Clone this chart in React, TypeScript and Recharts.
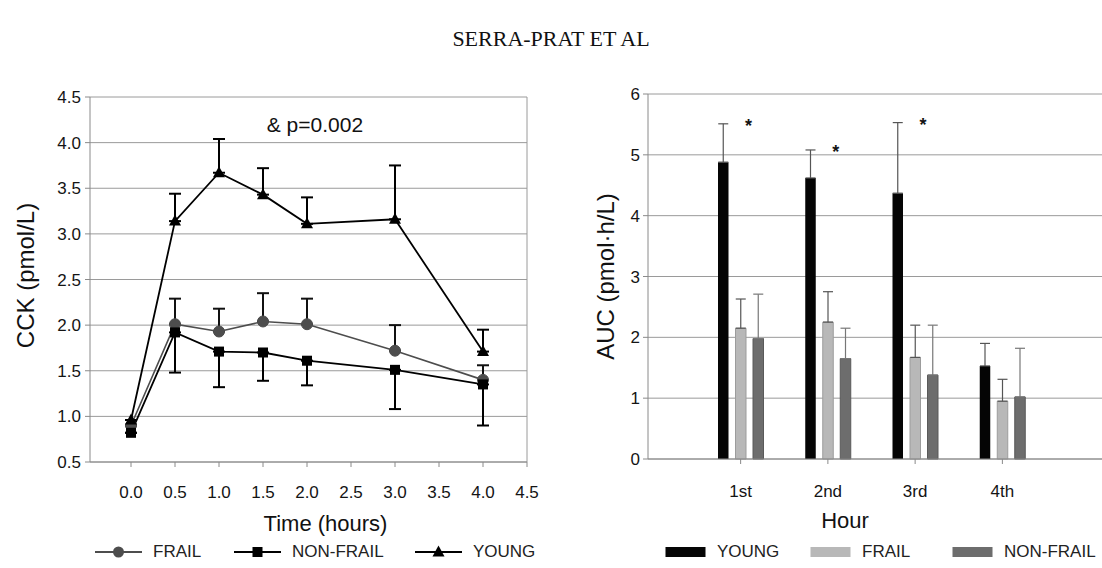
import React from 'react';
import {
  LineChart, Line, XAxis, YAxis, CartesianGrid, ErrorBar, ReferenceLine, ReferenceDot,
  ComposedChart, Bar, Label,
} from 'recharts';

// ---------- Left panel: CCK over time ----------
const times = [0, 0.5, 1, 1.5, 2, 3, 4];
const frailMean = [0.9, 2.01, 1.93, 2.04, 2.01, 1.72, 1.4];
const frailErrUp = [0, 0.28, 0.25, 0.31, 0.28, 0.28, 0.16];
const nonFrailMean = [0.82, 1.92, 1.71, 1.7, 1.61, 1.51, 1.35];
const nonFrailErrDown = [0, 0.44, 0.39, 0.31, 0.27, 0.43, 0.45];
const youngMean = [0.96, 3.14, 3.67, 3.43, 3.11, 3.16, 1.71];
const youngErrUp = [0, 0.3, 0.37, 0.29, 0.29, 0.59, 0.24];
const timeTicks = [0, 0.5, 1, 1.5, 2, 2.5, 3, 3.5, 4, 4.5];
const cckTicks = [0.5, 1, 1.5, 2, 2.5, 3, 3.5, 4, 4.5];
const lineSeriesNames = ['FRAIL', 'NON-FRAIL', 'YOUNG'];
const pAnnotation = { text: '& p=0.002', t: 2.09, cck: 4.2 };

// ---------- Right panel: AUC per hour ----------
const hours = ['1st', '2nd', '3rd', '4th'];
const youngAuc = [4.88, 4.62, 4.37, 1.53];
const youngAucErr = [0.63, 0.46, 1.16, 0.37];
const frailAuc = [2.15, 2.25, 1.67, 0.95];
const frailAucErr = [0.48, 0.5, 0.53, 0.36];
const nonFrailAuc = [1.98, 1.65, 1.38, 1.02];
const nonFrailAucErr = [0.73, 0.5, 0.82, 0.8];
const significance = ['*', '*', '*', ''];
const aucTicks = [0, 1, 2, 3, 4, 5, 6];
const barSeriesNames = ['YOUNG', 'FRAIL', 'NON-FRAIL'];

const SANS = '"Liberation Sans", Arial, sans-serif';
const TEXT = '#141414';
const GRID = '#9a9a9a';
const AXIS = '#8a8a8a';
const FRAIL_LINE = '#4d4d4d';
const BAR_YOUNG = '#050505';
const BAR_FRAIL = '#b8b8b8';
const BAR_NONFRAIL = '#6d6d6d';

const lineData = times.map((t, i) => ({
  t,
  frail: frailMean[i],
  frailErr: [0, frailErrUp[i]],
  nonFrail: nonFrailMean[i],
  nonFrailErr: [nonFrailErrDown[i], 0],
  young: youngMean[i],
  youngErr: [0, youngErrUp[i]],
}));

const barData = hours.map((h, i) => ({
  hour: h,
  young: youngAuc[i],
  youngErr: [0, youngAucErr[i]],
  frail: frailAuc[i],
  frailErr: [0, frailAucErr[i]],
  nonFrail: nonFrailAuc[i],
  nonFrailErr: [0, nonFrailAucErr[i]],
  star: significance[i] ? youngAuc[i] + youngAucErr[i] : null,
  starText: significance[i],
}));

const CircleDot = (p: any) =>
  p.cx == null ? <g key={p.index} /> : (
    <circle key={p.index} cx={p.cx} cy={p.cy} r={5.5} fill={FRAIL_LINE} stroke={FRAIL_LINE} />
  );
const SquareDot = (p: any) =>
  p.cx == null ? <g key={p.index} /> : (
    <rect key={p.index} x={p.cx - 5} y={p.cy - 5} width={10} height={10} fill="#000" />
  );
const TriangleDot = (p: any) =>
  p.cx == null ? <g key={p.index} /> : (
    <polygon
      key={p.index}
      points={`${p.cx},${p.cy - 6.5} ${p.cx - 6},${p.cy + 4.5} ${p.cx + 6},${p.cy + 4.5}`}
      fill="#000"
    />
  );
const StarDot = (p: any) =>
  p.cx == null || p.cy == null || !p.payload.starText ? <g key={p.index} /> : (
    <text key={p.index} x={p.cx + 8} y={p.cy + 8} textAnchor="middle" fontSize={18} fontWeight="bold" fontFamily={SANS} fill={TEXT}>
      {p.payload.starText}
    </text>
  );

const lineMarkers = [
  (x: number) => <circle cx={x} cy={9} r={5.5} fill={FRAIL_LINE} />,
  (x: number) => <rect x={x - 5} y={4} width={10} height={10} fill="#000" />,
  (x: number) => <polygon points={`${x},${2.5} ${x - 6},${13.5} ${x + 6},${13.5}`} fill="#000" />,
];
const lineLegendColors = [FRAIL_LINE, '#000', '#000'];
const lineLegendWidths = [139, 181, 140];
const barColors = [BAR_YOUNG, BAR_FRAIL, BAR_NONFRAIL];
const barLegendWidths = [145, 142, 150];

export default function App() {
  return (
    <div
      style={{
        position: 'absolute', left: 0, top: 0, width: 1102, height: 568,
        overflow: 'hidden', background: '#fff', fontFamily: SANS, color: TEXT,
      }}
    >
      <div
        style={{
          position: 'absolute', left: 0, top: 26, width: 1102, textAlign: 'center',
          fontFamily: '"Liberation Serif", "Times New Roman", serif', fontSize: 22,
          color: '#111', whiteSpace: 'nowrap',
        }}
      >
        SERRA-PRAT ET AL
      </div>

      {/* Left chart */}
      <div style={{ position: 'absolute', left: 0, top: 0 }}>
        <LineChart
          width={560}
          height={568}
          data={lineData}
          margin={{ top: 97, right: 33, bottom: 36, left: 22 }}
        >
          <CartesianGrid vertical={false} stroke={GRID} strokeWidth={1} />
          <XAxis
            type="number"
            dataKey="t"
            domain={[-0.466, 4.5]}
            ticks={timeTicks}
            allowDataOverflow
            tickFormatter={(v: number) => v.toFixed(1)}
            stroke={AXIS}
            tickSize={5}
            tickMargin={19}
            height={70}
            tick={{ fontSize: 17, fill: TEXT, fontFamily: SANS }}
          >
            <Label
              value="Time (hours)"
              position="insideBottom"
              offset={1}
              dx={17}
              style={{ fontSize: 22, fill: '#111', fontFamily: SANS }}
            />
          </XAxis>
          <YAxis
            type="number"
            domain={[0.5, 4.5]}
            ticks={cckTicks}
            tickFormatter={(v: number) => v.toFixed(1)}
            stroke={AXIS}
            tickSize={5}
            tickMargin={4}
            width={68}
            tick={{ fontSize: 17, fill: TEXT, fontFamily: SANS }}
          >
            <Label
              value="CCK (pmol/L)"
              angle={-90}
              position="insideLeft"
              offset={3}
              dy={-4}
              style={{ fontSize: 24, fill: '#111', fontFamily: SANS, textAnchor: 'middle' }}
            />
          </YAxis>
          <ReferenceLine x={4.5} stroke={GRID} strokeWidth={1} />
          <ReferenceDot
            x={pAnnotation.t}
            y={pAnnotation.cck}
            r={0}
            fill="none"
            stroke="none"
            label={{ value: pAnnotation.text, position: 'center', fontSize: 21, fill: '#111', fontFamily: SANS }}
          />
          <Line
            dataKey="frail"
            stroke={FRAIL_LINE}
            strokeWidth={1.6}
            dot={CircleDot}
            activeDot={false}
            isAnimationActive={false}
          >
            <ErrorBar dataKey="frailErr" width={6} stroke="#111" strokeWidth={2} direction="y" />
          </Line>
          <Line
            dataKey="nonFrail"
            stroke="#000"
            strokeWidth={1.8}
            dot={SquareDot}
            activeDot={false}
            isAnimationActive={false}
          >
            <ErrorBar dataKey="nonFrailErr" width={6} stroke="#000" strokeWidth={2} direction="y" />
          </Line>
          <Line
            dataKey="young"
            stroke="#000"
            strokeWidth={1.8}
            dot={TriangleDot}
            activeDot={false}
            isAnimationActive={false}
          >
            <ErrorBar dataKey="youngErr" width={6} stroke="#000" strokeWidth={2} direction="y" />
          </Line>
        </LineChart>
      </div>

      {/* Left legend */}
      <div style={{ position: 'absolute', left: 95, top: 542, display: 'flex', alignItems: 'center', whiteSpace: 'nowrap' }}>
        {lineSeriesNames.map((name, i) => (
          <div key={name} style={{ display: 'flex', alignItems: 'center', width: lineLegendWidths[i], flex: 'none' }}>
            <svg width={47} height={18} style={{ flex: 'none' }}>
              <line x1={0} y1={9} x2={47} y2={9} stroke={lineLegendColors[i]} strokeWidth={1.8} />
              {lineMarkers[i](23.5)}
            </svg>
            <span style={{ fontSize: 17, marginLeft: 11, color: '#222' }}>{name}</span>
          </div>
        ))}
      </div>

      {/* Right chart */}
      <div style={{ position: 'absolute', left: 560, top: 0 }}>
        <ComposedChart
          width={542}
          height={568}
          data={barData}
          margin={{ top: 94, right: 0, bottom: 39, left: 20 }}
          barGap={7}
          barSize={10.5}
        >
          <CartesianGrid vertical={false} stroke={GRID} strokeWidth={1} />
          <XAxis
            dataKey="hour"
            type="category"
            padding={{ left: 49, right: 56 }}
            stroke={AXIS}
            tickSize={5}
            tickMargin={21}
            height={70}
            tick={{ fontSize: 17, fill: TEXT, fontFamily: SANS }}
          >
            <Label
              value="Hour"
              position="insideBottom"
              offset={1}
              dx={-30}
              style={{ fontSize: 22, fill: '#111', fontFamily: SANS }}
            />
          </XAxis>
          <YAxis
            type="number"
            domain={[0, 6]}
            ticks={aucTicks}
            stroke={AXIS}
            tickSize={5}
            tickMargin={3}
            width={68}
            tick={{ fontSize: 17, fill: TEXT, fontFamily: SANS }}
          >
            <Label
              value="AUC (pmol·h/L)"
              angle={-90}
              position="insideLeft"
              offset={25}
              style={{ fontSize: 24, fill: '#111', fontFamily: SANS, textAnchor: 'middle' }}
            />
          </YAxis>
          <Bar dataKey="young" fill={BAR_YOUNG} isAnimationActive={false}>
            <ErrorBar dataKey="youngErr" width={5} stroke="#555" strokeWidth={1.2} direction="y" />
          </Bar>
          <Bar dataKey="frail" fill={BAR_FRAIL} stroke="#9c9c9c" strokeWidth={1} isAnimationActive={false}>
            <ErrorBar dataKey="frailErr" width={5} stroke="#555" strokeWidth={1.2} direction="y" />
          </Bar>
          <Bar dataKey="nonFrail" fill={BAR_NONFRAIL} stroke="#5a5a5a" strokeWidth={1} isAnimationActive={false}>
            <ErrorBar dataKey="nonFrailErr" width={5} stroke="#777" strokeWidth={1.2} direction="y" />
          </Bar>
          <Line
            dataKey="star"
            stroke="none"
            dot={StarDot}
            activeDot={false}
            legendType="none"
            isAnimationActive={false}
          />
        </ComposedChart>
      </div>

      {/* Right legend */}
      <div style={{ position: 'absolute', left: 665, top: 542, display: 'flex', alignItems: 'center', whiteSpace: 'nowrap' }}>
        {barSeriesNames.map((name, i) => (
          <div key={name} style={{ display: 'flex', alignItems: 'center', width: barLegendWidths[i], flex: 'none' }}>
            <svg width={41} height={18} style={{ flex: 'none' }}>
              <rect x={0.5} y={4} width={40} height={10} fill={barColors[i]} />
            </svg>
            <span style={{ fontSize: 17, marginLeft: 11, color: '#222' }}>{name}</span>
          </div>
        ))}
      </div>
    </div>
  );
}
